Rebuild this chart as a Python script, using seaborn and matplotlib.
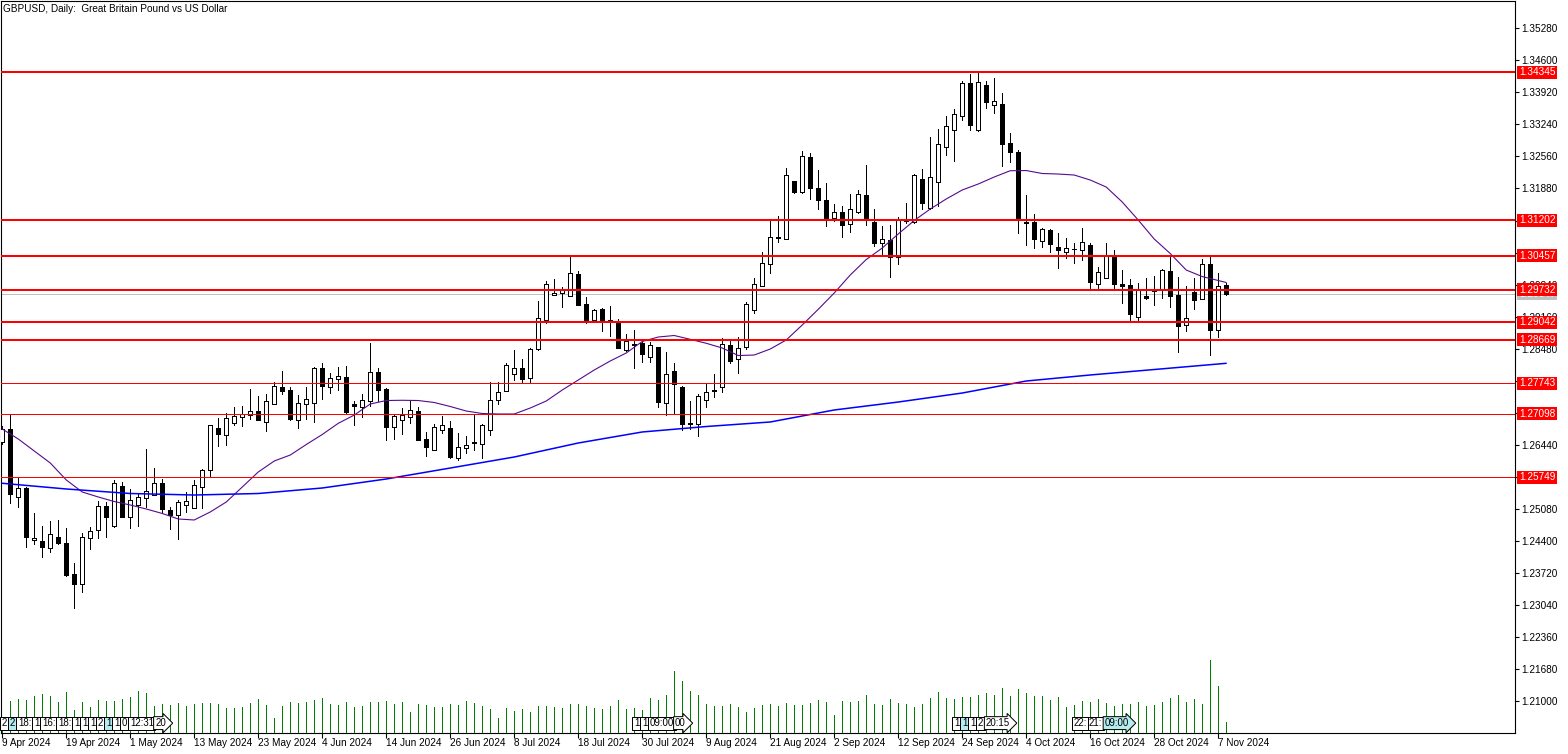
import numpy as np
import pandas as pd
import matplotlib
matplotlib.use("Agg")
import matplotlib.pyplot as plt
import matplotlib.transforms as mtransforms
import seaborn as sns

sns.set_style("white")
plt.rcParams['font.family'] = ['Liberation Sans', 'DejaVu Sans']

# ---------------- data ----------------
dates = pd.bdate_range("2024-04-09", "2024-11-08")

opens = [1.26505, 1.26775, 1.25325, 1.25516, 1.24412, 1.24391, 1.24242, 1.24476, 1.24348, 1.23697,
         1.23478, 1.24455, 1.24631, 1.25134, 1.24722, 1.25558, 1.24900, 1.25168, 1.25310, 1.25367,
         1.25622, 1.25049, 1.24956, 1.25155, 1.25091, 1.25550, 1.25904, 1.26790, 1.26641, 1.26896,
         1.27036, 1.27078, 1.27150, 1.26917, 1.27299, 1.27666, 1.27603, 1.26959, 1.27299, 1.27333,
         1.28063, 1.27673, 1.27842, 1.27872, 1.27299, 1.27248, 1.27363, 1.27978, 1.27624, 1.26811,
         1.26959, 1.27023, 1.27150, 1.26556, 1.26322, 1.26760, 1.26790, 1.26165, 1.26365, 1.26484,
         1.26450, 1.26760, 1.27390, 1.27575, 1.27936, 1.28070, 1.27851, 1.28466, 1.29082, 1.29613,
         1.29655, 1.29604, 1.30058, 1.29422, 1.29095, 1.29316, 1.29082, 1.29031, 1.28445, 1.28551,
         1.28600, 1.28297, 1.28515, 1.27320, 1.27999, 1.27666, 1.26896, 1.26874, 1.27397, 1.27588,
         1.27673, 1.28558, 1.28256, 1.28509, 1.29294, 1.29810, 1.30271, 1.30835, 1.30808, 1.32033,
         1.31812, 1.32542, 1.31890, 1.31636, 1.31247, 1.31381, 1.31120, 1.31387, 1.31742, 1.31169,
         1.30723, 1.30787, 1.30419, 1.31200, 1.31169, 1.32081, 1.31459, 1.32011, 1.32754, 1.33115,
         1.33419, 1.34113, 1.33128, 1.34077, 1.33646, 1.33673, 1.32846, 1.32654, 1.31175, 1.31169,
         1.30759, 1.30999, 1.30632, 1.30525, 1.30589, 1.30568, 1.30680, 1.29846, 1.29974, 1.30419,
         1.29846, 1.29825, 1.29146, 1.29591, 1.29710, 1.29725, 1.30129, 1.29619, 1.28982, 1.29689,
         1.29532, 1.30277, 1.28870, 1.29825]
highs = [1.26838, 1.27087, 1.25762, 1.25544, 1.24985, 1.24716, 1.24815, 1.24843, 1.24667, 1.23930,
         1.24573, 1.24694, 1.25240, 1.25225, 1.25692, 1.25650, 1.25501, 1.25423, 1.26350, 1.25947,
         1.25713, 1.25113, 1.25268, 1.25437, 1.25692, 1.25919, 1.26853, 1.27002, 1.27108, 1.27248,
         1.27263, 1.27624, 1.27475, 1.27518, 1.27766, 1.28006, 1.27673, 1.27490, 1.27666, 1.28091,
         1.28176, 1.27963, 1.28091, 1.28112, 1.27375, 1.27518, 1.28600, 1.28070, 1.27645, 1.27093,
         1.27227, 1.27369, 1.27242, 1.26717, 1.26881, 1.27057, 1.26951, 1.26696, 1.26626, 1.27093,
         1.26881, 1.27766, 1.27772, 1.28182, 1.28452, 1.28267, 1.28494, 1.29492, 1.29916, 1.29952,
         1.29795, 1.30453, 1.30122, 1.29583, 1.29322, 1.29337, 1.29386, 1.29116, 1.28785, 1.28876,
         1.28679, 1.28615, 1.28522, 1.28403, 1.28182, 1.27687, 1.27369, 1.27511, 1.27730, 1.27936,
         1.28706, 1.28685, 1.28717, 1.29464, 1.29974, 1.30525, 1.31190, 1.31296, 1.32315, 1.32033,
         1.32676, 1.32633, 1.32266, 1.31990, 1.31551, 1.31508, 1.31757, 1.31848, 1.32379, 1.31445,
         1.31090, 1.31105, 1.31275, 1.31566, 1.32181, 1.32294, 1.32973, 1.33136, 1.33419, 1.33574,
         1.34162, 1.34310, 1.34325, 1.34162, 1.34219, 1.33901, 1.33058, 1.32697, 1.31742, 1.31338,
         1.31041, 1.31020, 1.30935, 1.30829, 1.30723, 1.31041, 1.30716, 1.30207, 1.30723, 1.30574,
         1.30150, 1.29959, 1.29880, 1.29980, 1.30029, 1.30177, 1.30426, 1.30001, 1.29810, 1.29986,
         1.30377, 1.30453, 1.30092, 1.29867]
lows = [1.26456, 1.25197, 1.25113, 1.24264, 1.24327, 1.24051, 1.24157, 1.24327, 1.23661, 1.22981,
        1.23308, 1.24221, 1.24455, 1.24488, 1.24701, 1.24900, 1.24667, 1.24709, 1.25125, 1.25367,
        1.24998, 1.24658, 1.24446, 1.25019, 1.25091, 1.25091, 1.25762, 1.26420, 1.26435, 1.26860,
        1.26838, 1.26987, 1.26972, 1.26739, 1.27299, 1.27518, 1.26972, 1.26802, 1.26993, 1.26930,
        1.27418, 1.27545, 1.27603, 1.27121, 1.26866, 1.27036, 1.27269, 1.27363, 1.26548, 1.26569,
        1.26669, 1.26908, 1.26535, 1.26202, 1.26322, 1.26690, 1.26153, 1.26123, 1.26265, 1.26322,
        1.26153, 1.26654, 1.27312, 1.27575, 1.27815, 1.27745, 1.27779, 1.28452, 1.29018, 1.29613,
        1.29371, 1.29604, 1.29400, 1.29025, 1.29067, 1.28861, 1.28755, 1.28488, 1.28437, 1.28063,
        1.28191, 1.28203, 1.27248, 1.27072, 1.27093, 1.26747, 1.26775, 1.26632, 1.27235, 1.27460,
        1.27566, 1.28169, 1.27970, 1.28473, 1.29243, 1.29810, 1.30092, 1.30750, 1.30808, 1.31791,
        1.31791, 1.31663, 1.31451, 1.31090, 1.31184, 1.30857, 1.30963, 1.31366, 1.31099, 1.30659,
        1.30489, 1.30008, 1.30283, 1.31141, 1.31147, 1.31451, 1.31451, 1.31515, 1.32597, 1.32470,
        1.33334, 1.33115, 1.33100, 1.33595, 1.33489, 1.32364, 1.32449, 1.30929, 1.30687, 1.30610,
        1.30632, 1.30538, 1.30199, 1.30411, 1.30292, 1.30356, 1.29774, 1.29768, 1.29974, 1.29761,
        1.29443, 1.29074, 1.29074, 1.29541, 1.29400, 1.29562, 1.29358, 1.28415, 1.28855, 1.29328,
        1.29532, 1.28339, 1.28721, 1.29613]
closes = [1.26768, 1.25389, 1.25516, 1.24476, 1.24455, 1.24264, 1.24539, 1.24348, 1.23682, 1.23478,
          1.24476, 1.24616, 1.25140, 1.24913, 1.25622, 1.24900, 1.25268, 1.25325, 1.25452, 1.25622,
          1.25070, 1.24956, 1.25219, 1.25246, 1.25580, 1.25904, 1.26853, 1.26675, 1.27002, 1.27044,
          1.27087, 1.27150, 1.26972, 1.27363, 1.27681, 1.27588, 1.26993, 1.27320, 1.27405, 1.28063,
          1.27694, 1.27851, 1.27893, 1.27142, 1.27269, 1.27384, 1.27978, 1.27609, 1.26823, 1.27051,
          1.27065, 1.27172, 1.26548, 1.26399, 1.26811, 1.26853, 1.26180, 1.26386, 1.26429, 1.26492,
          1.26860, 1.27384, 1.27566, 1.28127, 1.28070, 1.27842, 1.28473, 1.29124, 1.29846, 1.29655,
          1.29725, 1.30080, 1.29413, 1.29074, 1.29307, 1.29061, 1.29067, 1.28500, 1.28636, 1.28585,
          1.28360, 1.28551, 1.27354, 1.27936, 1.27724, 1.26887, 1.26890, 1.27469, 1.27566, 1.27596,
          1.28573, 1.28224, 1.28488, 1.29422, 1.29846, 1.30298, 1.30844, 1.30840, 1.32160, 1.31812,
          1.32563, 1.31897, 1.31642, 1.31239, 1.31375, 1.31111, 1.31438, 1.31769, 1.31226, 1.30729,
          1.30801, 1.30419, 1.31205, 1.31210, 1.32160, 1.31578, 1.32118, 1.32818, 1.33200, 1.33455,
          1.34113, 1.33221, 1.34147, 1.33722, 1.33731, 1.32831, 1.32661, 1.31232, 1.31154, 1.30814,
          1.31014, 1.30695, 1.30568, 1.30610, 1.30585, 1.30738, 1.29889, 1.30107, 1.30468, 1.29846,
          1.29816, 1.29209, 1.29740, 1.29562, 1.29714, 1.30150, 1.29604, 1.28967, 1.29131, 1.29519,
          1.30271, 1.28870, 1.29816, 1.29647]
tick_volume = [14000, 31700, 33700, 32700, 36700, 38700, 36700, 30700, 40700, 22700,
               30700, 25700, 32700, 31700, 31700, 33700, 35700, 41700, 39700, 26700,
               28700, 27700, 29700, 26700, 28700, 29700, 29700, 28700, 24700, 24700,
               25700, 29700, 33700, 27700, 14700, 26700, 30700, 29700, 30700, 32700,
               34700, 28700, 27700, 30700, 25700, 26700, 30700, 30700, 31700, 28700,
               30700, 20700, 28700, 27700, 25700, 25700, 28700, 27700, 31700, 29700,
               26700, 23700, 14700, 24700, 21700, 23700, 20700, 26700, 26700, 25700,
               24700, 28700, 28700, 26700, 24700, 23700, 26700, 32700, 23700, 24700,
               22700, 34700, 32700, 37700, 61700, 51700, 41700, 37700, 28700, 26700,
               26700, 28700, 25700, 20700, 24700, 27700, 28700, 26700, 29700, 27700,
               27700, 29700, 32700, 30700, 17700, 31700, 30700, 31700, 37700, 28700,
               27700, 33700, 29700, 28700, 25700, 28700, 34700, 40700, 34700, 33700,
               35700, 35700, 37700, 39700, 37700, 44700, 36700, 43700, 39700, 36700,
               36700, 32700, 35700, 25700, 27700, 31700, 30700, 33700, 29700, 26700,
               28700, 28700, 30700, 26700, 27700, 30700, 34700, 37700, 30700, 33700,
               28700, 72700, 46700, 10700]

# moving averages (bar index, price)
ma_fast_bar = [0, 2, 4, 6, 8, 10, 12, 14, 16, 18, 20, 22, 24, 26, 28, 30, 32, 34, 36, 38,
               40, 42, 44, 46, 48, 50, 52, 54, 56, 58, 60, 62, 64, 66, 68, 70, 72, 74, 76, 78,
               80, 82, 84, 86, 88, 90, 92, 94, 96, 98, 100, 102, 104, 106, 108, 110, 112, 114,
               116, 118, 120, 122, 124, 126, 128, 130, 132, 134, 136, 138, 140, 142, 144, 146,
               148, 150, 152, 153]
ma_fast = [1.26774, 1.26562, 1.26307, 1.26053, 1.25692, 1.25437, 1.25331, 1.25235, 1.25161, 1.25076,
           1.24981, 1.24864, 1.24843, 1.25013, 1.25225, 1.25543, 1.25862, 1.26095, 1.26222, 1.26445,
           1.26658, 1.26895, 1.27071, 1.27305, 1.27379, 1.27384, 1.27379, 1.27337, 1.27252, 1.27156,
           1.27103, 1.27093, 1.27093, 1.27220, 1.27369, 1.27602, 1.27814, 1.28027, 1.28218, 1.28388,
           1.28632, 1.28727, 1.28759, 1.28678, 1.28594, 1.28494, 1.28334, 1.28345, 1.28472, 1.28664,
           1.28982, 1.29315, 1.29661, 1.30043, 1.30372, 1.30616, 1.30914, 1.31200, 1.31444, 1.31657,
           1.31848, 1.31975, 1.32124, 1.32257, 1.32261, 1.32198, 1.32187, 1.32166, 1.32060, 1.31911,
           1.31593, 1.31211, 1.30807, 1.30500, 1.30149, 1.30011, 1.29927, 1.29884]
ma_slow_bar = [0, 8, 16, 24, 32, 40, 48, 56, 64, 72, 80, 88, 96, 104, 112, 120, 128, 136, 144, 153]
ma_slow = [1.25622, 1.25501, 1.25405, 1.25373, 1.25405, 1.25522, 1.25713, 1.25946, 1.26180, 1.26477,
           1.26711, 1.26827, 1.26923, 1.27178, 1.27347, 1.27538, 1.27793, 1.27921, 1.28037, 1.28169]

thick_levels = [1.34345, 1.31202, 1.30457, 1.29732, 1.29042, 1.28669]
thin_levels = [1.27743, 1.27098, 1.25749]

y_ticks = [1.21000, 1.21680, 1.22360, 1.23040, 1.23720, 1.24400, 1.25080, 1.25760, 1.26440,
           1.27120, 1.27800, 1.28480, 1.29160, 1.29840, 1.30520, 1.31200, 1.31880, 1.32560,
           1.33240, 1.33920, 1.34600, 1.35280]
x_tick_labels = ["9 Apr 2024", "19 Apr 2024", "1 May 2024", "13 May 2024", "23 May 2024",
                 "4 Jun 2024", "14 Jun 2024", "26 Jun 2024", "8 Jul 2024", "18 Jul 2024",
                 "30 Jul 2024", "9 Aug 2024", "21 Aug 2024", "2 Sep 2024", "12 Sep 2024",
                 "24 Sep 2024", "4 Oct 2024", "16 Oct 2024", "28 Oct 2024", "7 Nov 2024"]

# calendar event markers: (text, bar index, highlighted, arrow)
events = [("2", -0.1, False, False), ("2", 0.95, True, False), ("18:", 1.95, False, False),
          ("1", 3.95, False, False), ("16:", 4.95, False, False), ("18:", 6.95, False, False),
          ("1", 8.95, False, False), ("1", 9.95, False, False), ("1", 10.95, False, False),
          ("2", 11.95, False, False), ("1", 12.95, True, False), ("1", 13.95, False, False),
          ("0", 14.95, False, False), ("12:31", 15.95, False, False), ("20", 19.1, False, True),
          ("1", 78.95, False, False), ("1", 79.95, False, False), ("09:00", 80.95, False, False),
          ("00", 84.1, False, True),
          ("1", 118.95, False, False), ("1", 119.95, True, False), ("1", 120.95, False, False),
          ("2", 121.95, False, False), ("20:15", 122.95, False, True),
          ("22:", 133.95, False, False), ("21:", 135.85, False, False), ("09:00", 137.8, True, True)]

title = "GBPUSD, Daily:  Great Britain Pound vs US Dollar"

# ---------------- figure ----------------
W, H = 1568, 754
PX = 72 / 100  # one pixel in points
FS = 7.2
fig = plt.figure(figsize=(W / 100, H / 100), dpi=100)
fig.patch.set_facecolor("white")
ax = fig.add_axes([1 / W, (H - 733) / H, 1514 / W, 732 / H])
ax2 = ax.twinx()   # volume axis

n = len(opens)
xb = np.arange(n)
o = np.array(opens); c = np.array(closes); hi = np.array(highs); lo = np.array(lows)
up = c >= o

ax.set_xlim(-0.16, 189.1)
ax.set_ylim(1.20321, 1.35860)

# wicks
ax.vlines(xb, lo, hi, color="black", linewidth=PX, zorder=3, antialiased=False)
# bodies
ax.bar(xb, np.abs(c - o), bottom=np.minimum(o, c), width=0.55,
       color=np.where(up, "white", "black"), edgecolor="black", linewidth=PX,
       zorder=4, antialiased=False)

# moving averages
sns.lineplot(x=ma_fast_bar, y=ma_fast, ax=ax, color="#560a8c", linewidth=0.8,
             estimator=None, zorder=5)
sns.lineplot(x=ma_slow_bar, y=ma_slow, ax=ax, color="#0000ff", linewidth=1.1,
             estimator=None, zorder=5)

# current price line
ax.axhline(closes[-1], color="#c0c0c0", linewidth=PX, zorder=2, antialiased=False)

# levels
for lv in thick_levels:
    ax.axhline(lv, color="#ff0000", linewidth=2 * PX, zorder=6, antialiased=False)
for lv in thin_levels:
    ax.axhline(lv, color="#ff0000", linewidth=PX, zorder=6, antialiased=False)

# right axis
ax.yaxis.tick_right()
ax.yaxis.set_label_position("right")
ax.set_yticks(y_ticks)
ax.set_yticklabels([f"{v:.5f}" for v in y_ticks])
ax.tick_params(axis="y", which="both", direction="out", length=3, width=0.8, pad=1.5,
               labelsize=FS, colors="black", right=True, left=False,
               labelright=True, labelleft=False)

ax.set_xticks(xb[::8])
ax.set_xticklabels(x_tick_labels)
ax.tick_params(axis="x", direction="out", length=3.4, width=0.8, pad=0.4,
               labelsize=FS, colors="black", bottom=True)
for t in ax.get_xticklabels():
    t.set_ha("left")

for s in ax.spines.values():
    s.set_visible(True)
    s.set_color("black")
    s.set_linewidth(0.8)
ax.set_xlabel("")
ax.set_ylabel("")
ax.grid(False)

# price labels at right
bt = mtransforms.blended_transform_factory(ax.transAxes, ax.transData)
ax.text(1.0026, closes[-1], f"{closes[-1]:.5f}", transform=bt, va="center", ha="left",
        color="white", fontsize=FS,
        bbox=dict(boxstyle="square,pad=0.15", fc="#c0c0c0", ec="none"),
        zorder=9, clip_on=False)
for lv in thick_levels + thin_levels:
    ax.text(1.0026, lv, f"{lv:.5f}", transform=bt, va="center", ha="left",
            color="white", fontsize=FS,
            bbox=dict(boxstyle="square,pad=0.15", fc="#ff0000", ec="none"),
            zorder=10, clip_on=False)

ax.text(0.0012, 0.9955, title, transform=ax.transAxes, ha="left", va="top",
        fontsize=FS, color="black", zorder=10)

# volume on twin axis
ax2.set_ylim(0, 732000)
ax2.vlines(xb, 0, tick_volume, color="#008000", linewidth=PX, antialiased=False)
ax2.set_yticks([])
ax2.tick_params(axis="y", right=False, left=False, labelright=False, labelleft=False)
for s in ax2.spines.values():
    s.set_visible(False)
ax2.set_ylabel("")

bt2 = mtransforms.blended_transform_factory(ax2.transData, ax2.transAxes)
for txt, pos, hl, arrow in events:
    style = "rarrow,pad=0.15" if arrow else "square,pad=0.15"
    ax2.text(pos, 0.0135, txt, transform=bt2, ha="left", va="center", fontsize=7,
             color="black",
             bbox=dict(boxstyle=style, fc="#b4ecf0" if hl else "white", ec="black",
                       linewidth=PX),
             zorder=8)

fig.savefig("out.png", dpi=100)
